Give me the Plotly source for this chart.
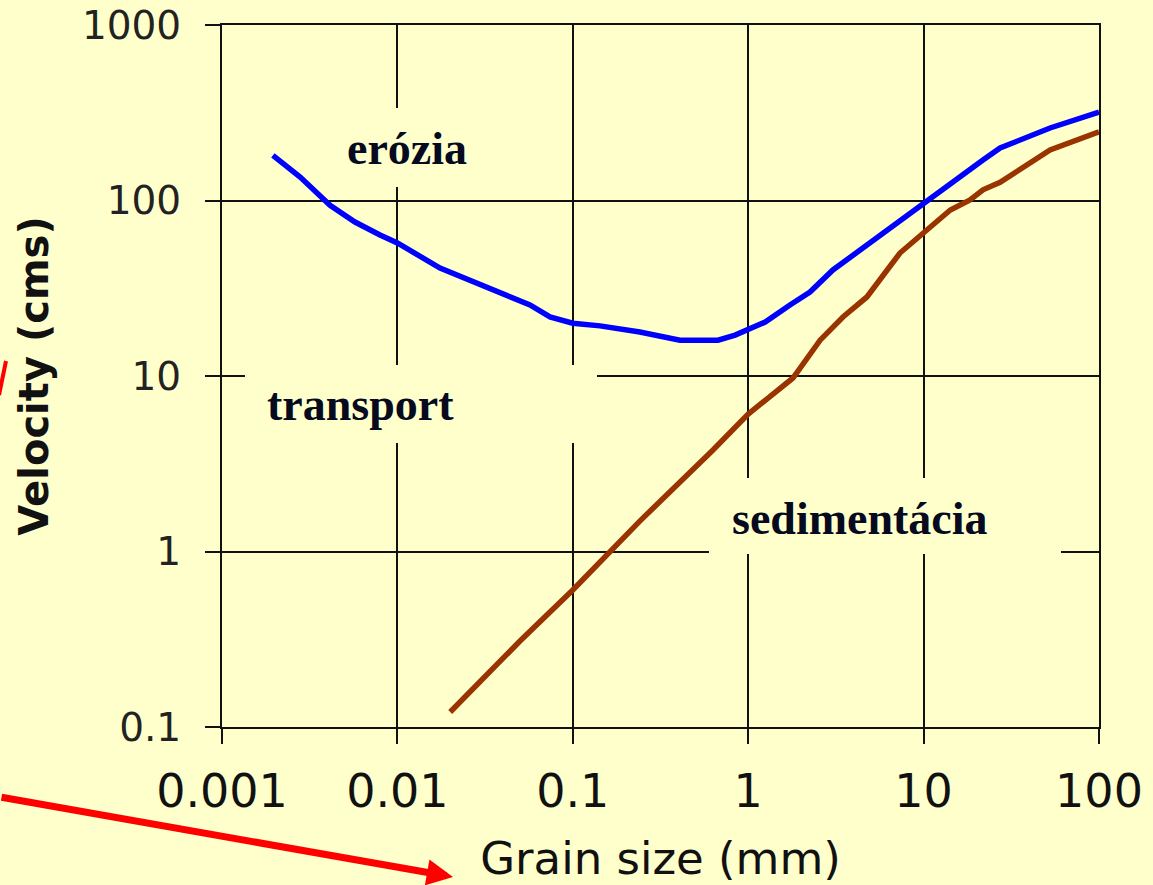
import plotly.graph_objects as go

# ---- data ----
tick_vals_x = [0.001, 0.01, 0.1, 1, 10, 100]
tick_text_x = ["0.001", "0.01", "0.1", "1", "10", "100"]
tick_vals_y = [0.1, 1, 10, 100, 1000]
tick_text_y = ["0.1", "1", "10", "100", "1000"]

erosion_x = [0.00195, 0.00279, 0.00413, 0.00573, 0.00796, 0.01, 0.0175, 0.0259,
             0.0385, 0.057, 0.0741, 0.1, 0.143, 0.241, 0.408, 0.673, 0.842, 1.024,
             1.25, 1.73, 2.25, 3.04, 4.34, 5.63, 7.33, 9.93, 14.2, 21.8, 27.3, 52.6, 100]
erosion_y = [181, 136, 94, 75.4, 63.6, 57.3, 41.2, 35.2,
             30.1, 25.4, 21.7, 20.0, 19.3, 17.8, 16.0, 16.0, 17.1, 18.5,
             20.3, 25.4, 30.1, 40.2, 52.2, 63.6, 77.4, 96.8, 126, 170, 199, 259, 319]

sed_x = [0.02, 0.05, 0.1, 0.241, 0.63, 1.0, 1.80, 2.57, 3.47, 4.75, 7.33, 9.93,
         14.2, 18.4, 21.8, 27.3, 52.6, 100]
sed_y = [0.1218, 0.309, 0.604, 1.49, 3.79, 6.07, 9.74, 16.0, 21.7, 28.2, 50.2, 65.3,
         88.3, 100.7, 115, 127, 194, 246]

BG = "#FFFFCC"
W, H = 1153, 885
L, R, T, B = 222, 54, 25, 158
PW, PH = W - L - R, H - T - B
XR, YR = [-3, 2], [-1, 3]


def px(xp):
    return (xp - L) / PW


def py(yp):
    return (H - B - yp) / PH


def dx(xp):  # pixel -> data value on log x
    return 10 ** (XR[0] + px(xp) * (XR[1] - XR[0]))


def dy(yp):
    return 10 ** (YR[0] + py(yp) * (YR[1] - YR[0]))


fig = go.Figure()
fig.add_trace(go.Scatter(x=erosion_x, y=erosion_y, mode="lines",
                         line=dict(color="#0000FF", width=5.5), showlegend=False,
                         hoverinfo="skip"))
fig.add_trace(go.Scatter(x=sed_x, y=sed_y, mode="lines",
                         line=dict(color="#993300", width=5.5), showlegend=False,
                         hoverinfo="skip"))

# label boxes masking the grid (between grid and traces)
boxes = [(320, 108, 485, 187), (245, 365, 597, 443), (709, 478, 1061, 554)]
for (x0, y0, x1, y1) in boxes:
    fig.add_shape(type="rect", xref="x", yref="y",
                  x0=dx(x0), x1=dx(x1), y0=dy(y1), y1=dy(y0),
                  fillcolor=BG, line=dict(width=0), layer="between")

labels = [("erózia", 345, 149), ("transport", 265, 404), ("sedimentácia", 730, 518)]
for (txt, x, y) in labels:
    fig.add_annotation(text="<b>%s</b>" % txt, xref="paper", yref="paper",
                       x=px(x), y=py(y), xanchor="left", yanchor="middle",
                       showarrow=False,
                       font=dict(family="Liberation Serif", size=46, color="#050A1E"))

# red arrows
fig.add_annotation(xref="paper", yref="paper", x=px(453), y=py(877),
                   ax=-453, ay=-80, text="", showarrow=True,
                   arrowhead=2, arrowwidth=7, arrowsize=0.75, arrowcolor="#FF0000")
fig.add_shape(type="line", xref="paper", yref="paper",
              x0=px(-1), y0=py(395), x1=px(6), y1=py(361),
              line=dict(color="#FF0000", width=4))

axis_common = dict(type="log", showgrid=True, gridcolor="#111111", gridwidth=2,
                   showline=True, linecolor="#111111", linewidth=2, mirror=True,
                   ticks="outside", ticklen=15, tickwidth=2, tickcolor="#111111",
                   zeroline=False, automargin=False)

fig.update_xaxes(range=XR, tickvals=tick_vals_x, ticktext=tick_text_x,
                 tickfont=dict(family="DejaVu Sans", size=46, color="#111111"),
                 ticklabelstandoff=8,
                 title=dict(text="Grain size (mm)", standoff=33,
                            font=dict(family="DejaVu Sans", size=45, color="#111111")),
                 **axis_common)
fig.update_yaxes(range=YR, tickvals=tick_vals_y, ticktext=tick_text_y,
                 tickfont=dict(family="DejaVu Sans", size=39, color="#222222"),
                 ticklabelstandoff=16,
                 title=dict(text="<b>Velocity (cms)</b>", standoff=21,
                            font=dict(family="DejaVu Sans", size=40, color="#111111")),
                 **axis_common)

fig.update_layout(width=W, height=H, margin=dict(l=L, r=R, t=T, b=B),
                  paper_bgcolor=BG, plot_bgcolor=BG)

fig.write_html("out.html", config={"displayModeBar": False},
               post_script="document.body.style.margin='0';"
                           "document.body.style.overflow='hidden';"
                           "document.body.style.background='#FFFFCC';")
